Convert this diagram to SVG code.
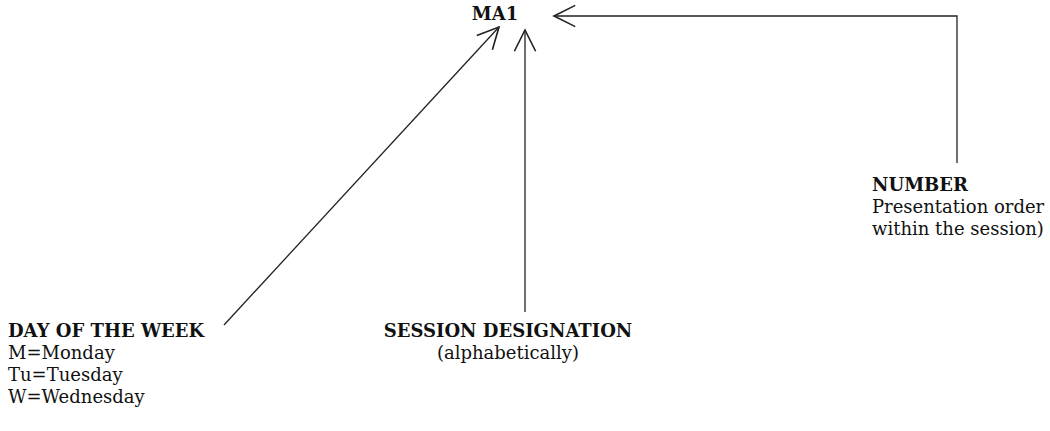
<svg xmlns="http://www.w3.org/2000/svg" width="1050" height="431" viewBox="0 0 1050 431">
<style>
text{font-family:"DejaVu Serif","Liberation Serif",serif;font-size:18px;fill:#111}
.b{font-weight:bold}
.c{text-anchor:middle}
.ln{fill:none;stroke:#222;stroke-width:1.3}
</style>
<defs>
<marker id="ah" markerUnits="userSpaceOnUse" markerWidth="30" markerHeight="30" refX="0" refY="0" viewBox="-20 -12 24 24" orient="auto" overflow="visible">
<path d="M-17,-8.5 L0,0 L-17,8.5" fill="none" stroke="#222" stroke-width="1.3"/>
</marker>
</defs>
<rect width="1050" height="431" fill="#fff"/>
<g id="connectors">
<path class="ln" d="M224,325 L499,27" marker-end="url(#ah)"/>
<path class="ln" d="M525,312 L525,30" marker-end="url(#ah)"/>
<path class="ln" d="M957,163 L957,16 L554,16" marker-end="url(#ah)"/>
</g>
<g id="ma1"><text class="b c" x="495" y="20">MA1</text></g>
<g id="number">
<text class="b" x="872" y="191">NUMBER</text>
<text x="872" y="213">Presentation order</text>
<text x="872" y="235">within the session)</text>
</g>
<g id="day">
<text class="b" x="8" y="337">DAY OF THE WEEK</text>
<text x="8" y="359">M=Monday</text>
<text x="8" y="381">Tu=Tuesday</text>
<text x="8" y="403">W=Wednesday</text>
</g>
<g id="session">
<text class="b c" x="508" y="337">SESSION DESIGNATION</text>
<text class="c" x="508" y="359">(alphabetically)</text>
</g>
</svg>
